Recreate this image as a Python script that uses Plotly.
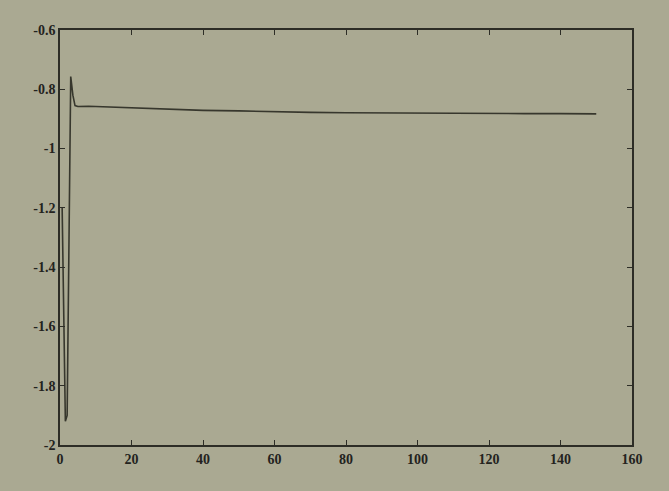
import plotly.graph_objects as go

# Data
x_vals = [0.6, 1.0, 1.5, 2.0, 3.0, 3.6, 4.2, 5, 6, 8, 10, 15, 20, 30, 40, 50, 60, 70, 80, 90, 100, 110, 120, 130, 140, 150]
y_vals = [-1.20, -1.55, -1.92, -1.90, -0.757, -0.820, -0.855, -0.858, -0.857, -0.857, -0.858, -0.860, -0.863, -0.868, -0.871, -0.873, -0.876, -0.878, -0.879, -0.880, -0.881, -0.881, -0.882, -0.882, -0.882, -0.883]

x_ticks = [0, 20, 40, 60, 80, 100, 120, 140, 160]
y_ticks = [-2, -1.8, -1.6, -1.4, -1.2, -1, -0.8, -0.6]
y_tick_text = ["-2", "-1.8", "-1.6", "-1.4", "-1.2", "-1", "-0.8", "-0.6"]

bg = "rgb(170,169,146)"
ink = "rgb(45,45,38)"

fig = go.Figure()
fig.add_trace(go.Scatter(x=x_vals, y=y_vals, mode="lines",
                         line=dict(color="rgb(55,55,45)", width=1.6),
                         showlegend=False, hoverinfo="skip"))

axis_common = dict(showgrid=False, zeroline=False, showline=True, linecolor=ink,
                   linewidth=1.5, mirror="allticks", ticks="inside", ticklen=5,
                   tickwidth=1.2, tickcolor=ink,
                   tickfont=dict(family="Liberation Serif", size=14, color="rgb(35,35,30)", weight="bold"))

fig.update_xaxes(range=[0, 160], tickvals=x_ticks, ticktext=[str(t) for t in x_ticks], **axis_common)
fig.update_yaxes(range=[-2, -0.6], tickvals=y_ticks, ticktext=y_tick_text, **axis_common)

fig.update_layout(width=669, height=491, paper_bgcolor=bg, plot_bgcolor=bg,
                  margin=dict(l=60, r=37, t=30, b=46))

fig.write_html("out.html", config={"displayModeBar": False},
               post_script="document.body.style.margin='0';document.body.style.background='rgb(170,169,146)';")
